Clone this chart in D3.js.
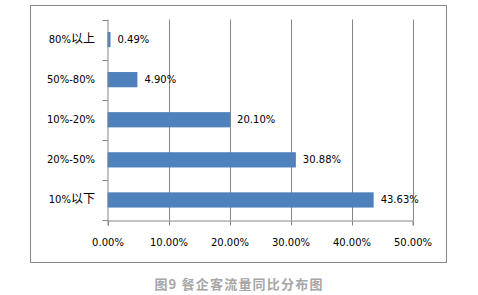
<!DOCTYPE html>
<html lang="zh">
<head>
<meta charset="utf-8">
<title>餐企客流量同比分布图</title>
<script src="https://cdn.jsdelivr.net/npm/d3@7"></script>
<style>
  body { margin: 0; padding: 0; background: #fff; overflow: hidden; }
  .tick text { font-family: "DejaVu Sans", "Noto Sans CJK SC", sans-serif; font-size: 10px; fill: #000; }
  .lbl { font-family: "DejaVu Sans", sans-serif; font-size: 10px; fill: #000; }
</style>
</head>
<body>
<script>
// data
var categories = ["80%以上", "50%-80%", "10%-20%", "20%-50%", "10%以下"];
var values = [0.49, 4.90, 20.10, 30.88, 43.63];
var xTicks = [0, 10, 20, 30, 40, 50];
var title = "图9 餐企客流量同比分布图";

var W = 478, H = 295;
var plotL = 107.5, plotR = 412.5, plotT = 19.5, plotB = 220;

var svg = d3.select("body").append("svg")
  .attr("width", W)
  .attr("height", H);

// outer frame
svg.append("rect")
  .attr("x", 30.5).attr("y", 5.5)
  .attr("width", 416).attr("height", 257)
  .attr("fill", "#fff")
  .attr("stroke", "#868686")
  .attr("stroke-width", 1);

var x = d3.scaleLinear().domain([0, 50]).range([plotL, plotR]);
var y = d3.scaleBand().domain(categories).range([plotT, plotB]).paddingInner(0.62).paddingOuter(0.31);
var yTick = d3.scalePoint().domain(d3.range(categories.length + 1)).range([plotT, plotB]);

// vertical gridlines
svg.append("g").selectAll("line")
  .data(xTicks.slice(1))
  .enter().append("line")
  .attr("x1", function(d){ return Math.round(x(d)) + 0.5; })
  .attr("x2", function(d){ return Math.round(x(d)) + 0.5; })
  .attr("y1", plotT).attr("y2", plotB)
  .attr("stroke", "#868686");

// bars
svg.append("g").selectAll("rect")
  .data(values)
  .enter().append("rect")
  .attr("x", x(0))
  .attr("y", function(d, i){ return y(categories[i]); })
  .attr("width", function(d){ return x(d) - x(0); })
  .attr("height", y.bandwidth())
  .attr("fill", "#4f81bd");

// data labels
svg.append("g").selectAll("text")
  .data(values)
  .enter().append("text")
  .attr("class", "lbl")
  .attr("x", function(d){ return x(d) + 7; })
  .attr("y", function(d, i){ return y(categories[i]) + y.bandwidth() / 2; })
  .attr("dy", "0.35em")
  .text(function(d){ return d.toFixed(2) + "%"; });

// x axis
var xAxis = svg.append("g")
  .attr("transform", "translate(0," + (plotB + 0.5) + ")")
  .call(d3.axisBottom(x).tickValues(xTicks).tickSize(5).tickPadding(13)
    .tickFormat(function(d){ return d.toFixed(2) + "%"; }));
xAxis.select(".domain").attr("stroke", "#868686");
xAxis.selectAll(".tick line").attr("stroke", "#868686").attr("transform", "translate(0.5,0)");

// y axis line + ticks
svg.append("line")
  .attr("x1", plotL + 0.5).attr("x2", plotL + 0.5)
  .attr("y1", plotT).attr("y2", plotB)
  .attr("stroke", "#868686");
svg.append("g").selectAll("line")
  .data(d3.range(categories.length + 1))
  .enter().append("line")
  .attr("x1", plotL - 5).attr("x2", plotL + 0.5)
  .attr("y1", function(d){ return Math.round(yTick(d)) + 0.5; })
  .attr("y2", function(d){ return Math.round(yTick(d)) + 0.5; })
  .attr("stroke", "#868686");

// category labels (CJK part a bit bigger, like the original)
var catText = svg.append("g").selectAll("text")
  .data(categories)
  .enter().append("text")
  .attr("class", "lbl")
  .attr("x", 95)
  .attr("y", function(d){ return y(d) + y.bandwidth() / 2; })
  .attr("dy", "0.35em")
  .attr("text-anchor", "end");
catText.each(function(d){
  var t = d3.select(this);
  d.match(/[\u4e00-\u9fff]+|[^\u4e00-\u9fff]+/g).forEach(function(part){
    var cjk = /[\u4e00-\u9fff]/.test(part);
    t.append("tspan")
      .attr("font-family", cjk ? "Noto Sans CJK SC, sans-serif" : "DejaVu Sans, sans-serif")
      .attr("font-size", cjk ? "12px" : "10px")
      .text(part);
  });
});

// caption
svg.append("text")
  .attr("x", 239)
  .attr("y", 289)
  .attr("text-anchor", "middle")
  .attr("font-family", "Noto Sans CJK SC, sans-serif")
  .attr("font-size", "13px")
  .attr("font-weight", "bold")
  .attr("letter-spacing", "1.2px")
  .attr("fill", "#a6a6a6")
  .text(title);
</script>
</body>
</html>
